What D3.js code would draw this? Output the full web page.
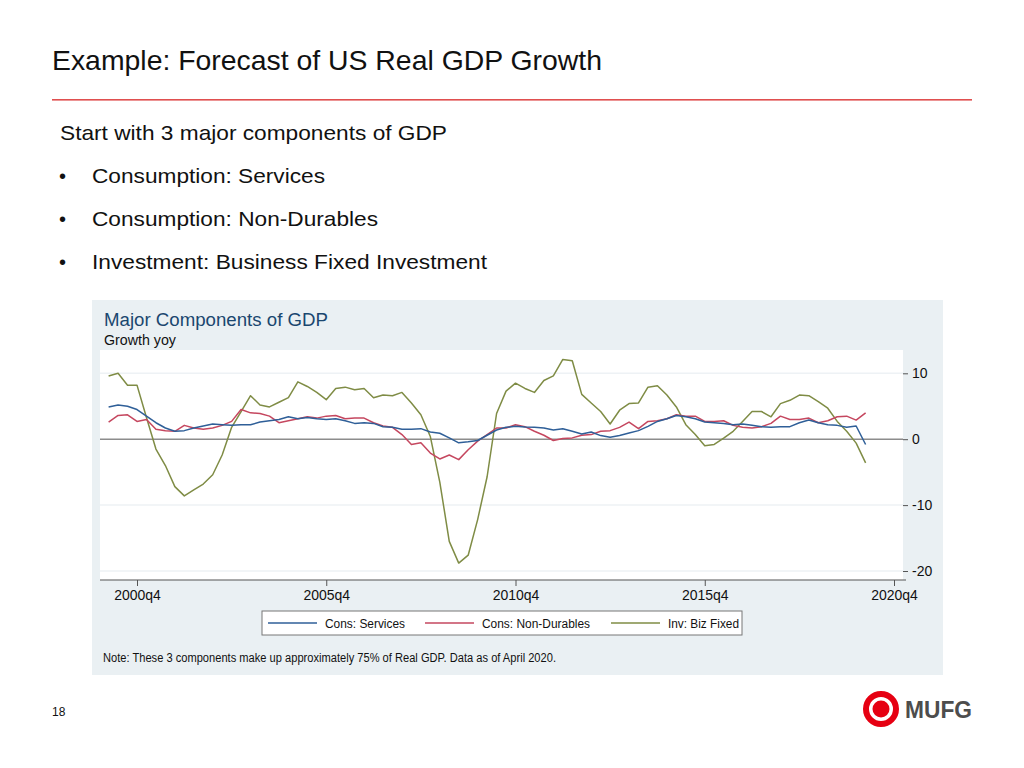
<!DOCTYPE html>
<html>
<head>
<meta charset="utf-8">
<script src="https://cdn.jsdelivr.net/npm/d3@7"></script>
<style>
  html, body { margin: 0; padding: 0; background: #ffffff; }
  svg { display: block; }
  text { font-family: "Liberation Sans", Arial, sans-serif; }
</style>
</head>
<body>
<svg id="slide" width="1024" height="768"></svg>
<script>
// ---------------- data ----------------
const startYear = 2000;   // first observation: 2000q1
const quarters = [];
for (let i = 0; i < 81; i++) quarters.push(`${startYear + Math.floor(i / 4)}q${(i % 4) + 1}`);

const consServices = [
  4.9, 5.2, 5.0, 4.5, 3.5, 2.5, 1.7, 1.2, 1.3, 1.7, 2.0, 2.3, 2.2, 2.1, 2.2, 2.2, 2.6, 2.8, 3.0, 3.4, 3.1,
  3.3, 3.1, 3.0, 3.1, 2.8, 2.4, 2.5, 2.4, 1.9, 1.8, 1.5, 1.5, 1.6, 1.1, 0.9, 0.2, -0.55, -0.4, -0.2, 0.6,
  1.4, 1.8, 1.95, 1.85, 1.8, 1.7, 1.4, 1.6, 1.2, 0.8, 1.1, 0.55, 0.3, 0.55, 0.95, 1.3, 1.95, 2.7, 3.1, 3.6, 3.4,
  3.1, 2.6, 2.5, 2.4, 2.2, 2.3, 2.1, 1.9, 1.8, 1.9, 1.9, 2.5, 2.9, 2.5, 2.2, 2.1, 1.8, 2.0, -0.8
];
const consNonDurables = [
  2.6, 3.6, 3.7, 2.7, 3.0, 1.5, 1.3, 1.2, 2.1, 1.7, 1.5, 1.7, 2.1, 2.7, 4.5, 4.0, 3.9, 3.5, 2.5, 2.8, 3.1,
  3.4, 3.2, 3.5, 3.6, 3.1, 3.2, 3.2, 2.5, 2.0, 1.8, 0.7, -0.8, -0.55, -2.1, -3.0, -2.4, -3.1, -1.6, -0.3, 0.7,
  1.7, 1.7, 2.2, 1.9, 1.2, 0.6, -0.2, 0.1, 0.2, 0.6, 0.7, 1.2, 1.3, 1.8, 2.6, 1.6, 2.7, 2.8, 3.1, 3.7, 3.5,
  3.5, 2.7, 2.7, 2.8, 2.1, 1.8, 1.7, 1.9, 2.4, 3.5, 3.0, 3.0, 3.2, 2.5, 2.8, 3.4, 3.5, 2.9, 4.0
];
const invBizFixed = [
  9.6, 10.0, 8.2, 8.2, 3.3, -1.5, -4.0, -7.2, -8.6, -7.7, -6.8, -5.4, -2.4, 1.8, 4.2, 6.6, 5.2, 4.9, 5.6, 6.3, 8.7, 8.0, 7.1,
  6.0, 7.7, 7.9, 7.5, 7.7, 6.3, 6.7, 6.6, 7.1, 5.5, 3.7, 0.4, -6.5, -15.5, -18.8, -17.6, -12.2, -5.7, 3.9, 7.3, 8.5,
  7.7, 7.1, 8.9, 9.6, 12.1, 11.9, 6.8, 5.5, 4.2, 2.3, 4.4, 5.4, 5.5, 7.9, 8.1, 6.7, 4.9, 2.2, 0.7, -1.0, -0.8,
  0.15, 1.2, 2.7, 4.2, 4.2, 3.4, 5.4, 5.9, 6.7, 6.6, 5.7, 4.7, 2.7, 1.2, -0.6, -3.6
];

const seriesNames = ["Cons: Services", "Cons: Non-Durables", "Inv: Biz Fixed"];
const seriesColors = ["#2f5f98", "#c5475f", "#7f8c45"];
const xTickQuarters = ["2000q4", "2005q4", "2010q4", "2015q4", "2020q4"];
const yTicks = [-20, -10, 0, 10];

const bullets = ["Consumption: Services", "Consumption: Non-Durables", "Investment: Business Fixed Investment"];

// ---------------- drawing ----------------
const svg = d3.select("#slide");

// slide header
svg.append("text").attr("x", 52).attr("y", 70)
  .attr("font-size", 28).attr("fill", "#111")
  .attr("textLength", 550).attr("lengthAdjust", "spacingAndGlyphs")
  .text("Example: Forecast of US Real GDP Growth");
svg.append("rect").attr("x", 52).attr("y", 99).attr("width", 920).attr("height", 1.6)
  .attr("fill", "#e04f4f");

const bodyW = [387, 233, 286, 395];
svg.append("text").attr("x", 60).attr("y", 140)
  .attr("font-size", 21).attr("fill", "#111")
  .attr("textLength", bodyW[0]).attr("lengthAdjust", "spacingAndGlyphs")
  .text("Start with 3 major components of GDP");
bullets.forEach((b, k) => {
  const yy = 183 + k * 43;
  svg.append("text").attr("x", 59).attr("y", yy).attr("font-size", 20).attr("fill", "#111").text("•");
  svg.append("text").attr("x", 92).attr("y", yy).attr("font-size", 21).attr("fill", "#111")
    .attr("textLength", bodyW[k + 1]).attr("lengthAdjust", "spacingAndGlyphs")
    .text(b);
});

// chart panel
svg.append("rect").attr("x", 92).attr("y", 300).attr("width", 851).attr("height", 375)
  .attr("fill", "#eaf0f3");
svg.append("text").attr("x", 104).attr("y", 326)
  .attr("font-size", 18).attr("fill", "#1a476f")
  .attr("textLength", 224).attr("lengthAdjust", "spacingAndGlyphs")
  .text("Major Components of GDP");
svg.append("text").attr("x", 104).attr("y", 345)
  .attr("font-size", 14).attr("fill", "#111")
  .attr("textLength", 72).attr("lengthAdjust", "spacingAndGlyphs")
  .text("Growth yoy");

// plot region
const plotL = 100, plotR = 903, plotT = 350, plotB = 580;
svg.append("rect").attr("x", plotL).attr("y", plotT).attr("width", plotR - plotL).attr("height", plotB - plotT)
  .attr("fill", "#ffffff");

const x = d3.scaleLinear().domain([quarters.indexOf("2000q4"), 83]).range([137, 894]);
const y = d3.scaleLinear().domain([-20, 10]).range([571, 373.3]);

// gridlines
svg.append("g").selectAll("line").data(yTicks.filter(v => v !== 0)).join("line")
  .attr("x1", plotL).attr("x2", plotR)
  .attr("y1", d => y(d)).attr("y2", d => y(d))
  .attr("stroke", "#eef2f5").attr("stroke-width", 1.5);

// zero line
svg.append("line").attr("x1", plotL).attr("x2", plotR)
  .attr("y1", y(0)).attr("y2", y(0))
  .attr("stroke", "#8c8c8c").attr("stroke-width", 1.6);

// series
const allSeries = [consServices, consNonDurables, invBizFixed];
const line = d3.line().x((d, i) => x(i)).y(d => y(d));
[2, 1, 0].forEach(k => {
  svg.append("path").datum(allSeries[k])
    .attr("d", line)
    .attr("fill", "none")
    .attr("stroke", seriesColors[k])
    .attr("stroke-width", 1.5)
    .attr("stroke-linejoin", "round");
});

// x axis
const xTickIdx = xTickQuarters.map(q => {
  const yr = +q.slice(0, 4), qq = +q.slice(5);
  return (yr - startYear) * 4 + (qq - 1);
});
const xAxis = d3.axisBottom(x).tickValues(xTickIdx)
  .tickFormat((d, i) => xTickQuarters[i]).tickSize(6).tickPadding(4);
const gx = svg.append("g").attr("transform", `translate(0,${plotB})`).call(xAxis);
gx.select(".domain").remove();
gx.selectAll(".tick line").attr("stroke", "#555");
gx.selectAll(".tick text").attr("font-size", 14).attr("fill", "#111")
  .attr("font-family", "Liberation Sans, Arial, sans-serif");
svg.append("line").attr("x1", plotL).attr("x2", plotR + 3).attr("y1", plotB).attr("y2", plotB)
  .attr("stroke", "#555").attr("stroke-width", 1.2);

// y axis (right)
const yAxis = d3.axisRight(y).tickValues(yTicks).tickFormat(d3.format("d")).tickSize(5).tickPadding(4);
const gy = svg.append("g").attr("transform", `translate(${plotR},0)`).call(yAxis);
gy.select(".domain").remove();
gy.selectAll(".tick line").attr("stroke", "#555");
gy.selectAll(".tick text").attr("font-size", 14).attr("fill", "#111")
  .attr("font-family", "Liberation Sans, Arial, sans-serif")
  .text(d => d < 0 ? "-" + Math.abs(d) : d);

// legend
const lg = svg.append("g");
lg.append("rect").attr("x", 262).attr("y", 611).attr("width", 480).attr("height", 24)
  .attr("fill", "#ffffff").attr("stroke", "#777").attr("stroke-width", 1);
const legendX = [268, 425, 611];
const legendW = [80, 108, 71];
seriesNames.forEach((n, k) => {
  lg.append("line").attr("x1", legendX[k]).attr("x2", legendX[k] + 49)
    .attr("y1", 623).attr("y2", 623)
    .attr("stroke", seriesColors[k]).attr("stroke-width", 1.5);
  lg.append("text").attr("x", legendX[k] + 57).attr("y", 627.5)
    .attr("font-size", 12.5).attr("fill", "#111")
    .attr("textLength", legendW[k]).attr("lengthAdjust", "spacingAndGlyphs")
    .text(n);
});

// note
svg.append("text").attr("x", 103).attr("y", 662)
  .attr("font-size", 12.5).attr("fill", "#111")
  .attr("textLength", 453).attr("lengthAdjust", "spacingAndGlyphs")
  .text("Note: These 3 components make up approximately 75% of Real GDP. Data as of April 2020.");

// page number
svg.append("text").attr("x", 52).attr("y", 716).attr("font-size", 12).attr("fill", "#111").text("18");

// logo
svg.append("circle").attr("cx", 881).attr("cy", 709).attr("r", 15)
  .attr("fill", "none").attr("stroke", "#e60012").attr("stroke-width", 6);
svg.append("circle").attr("cx", 881).attr("cy", 709).attr("r", 8.5)
  .attr("fill", "#e60012");
svg.append("text").attr("x", 905).attr("y", 718)
  .attr("font-size", 24).attr("font-weight", "bold").attr("fill", "#4d4d4d")
  .attr("textLength", 67).attr("lengthAdjust", "spacingAndGlyphs")
  .text("MUFG");
</script>
</body>
</html>
